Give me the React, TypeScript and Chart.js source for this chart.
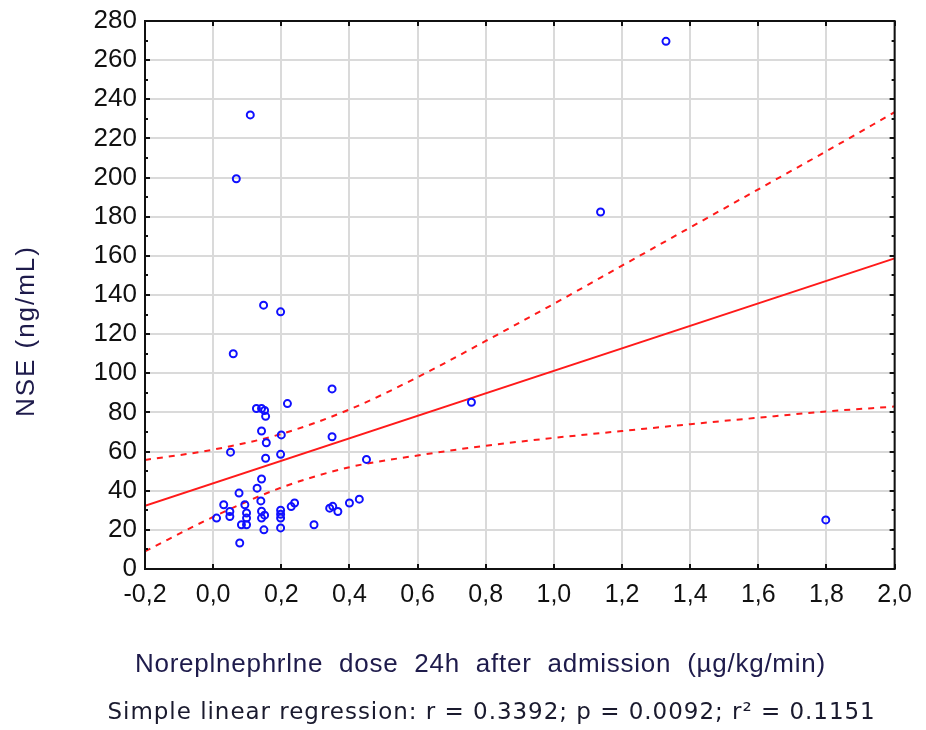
import { useEffect, useRef } from "react";
import { Chart, registerables } from "chart.js";

Chart.register(...registerables);

// Observed points (dose, NSE)
const doseX = [
  0.349, 0.127, 0.142, 0.151, 0.154, 0.218, 0.142, 0.156, 0.2, 0.051,
  0.349, 0.154, 0.198, 0.45, 0.142, 0.129, 0.076, 0.031, 0.14, 0.093,
  0.239, 0.229, 0.049, 0.049, 0.01, 0.098, 0.098, 0.083, 0.098, 0.142,
  0.151, 0.142, 0.198, 0.198, 0.198, 0.149, 0.198, 0.296, 0.078, 0.758,
  0.342, 0.351, 0.366, 0.4, 0.429, 0.109, 0.068, 0.148, 0.198, 0.059,
  1.329, 1.137, 1.798,
];
const nseY = [
  92, 82, 82, 81, 78, 84.5, 70.5, 64.5, 68.5, 59.7,
  67.6, 56.6, 58.6, 56, 46, 41.3, 38.8, 32.8, 34.8, 32.8,
  33.7, 31.9, 29.4, 26.8, 26, 28.6, 26, 22.6, 22.6, 29.5,
  27.5, 26, 30, 28, 26, 20, 21, 22.6, 13.3, 85.2,
  31.1, 32, 29.4, 33.7, 35.7, 232, 199.4, 134.8, 131.4, 110,
  269.6, 182.4, 25.1,
];

// Regression line end points
const fitX = [-0.2, 2.0];
const fitY = [32.3, 158.7];

// Confidence band read at each grid position
const bandX = [-0.2, 0, 0.2, 0.4, 0.6, 0.8, 1.0, 1.2, 1.4, 1.6, 1.8, 2.0];
const upperY = [55.7, 61, 69, 81.5, 98, 116.5, 135.5, 155, 174.5, 194, 213.5, 233.4];
const lowerY = [9, 26.6, 41.6, 52, 58, 63, 67, 70.5, 74, 77.3, 80.5, 83];

// Axis ticks
const xTickValues = [-0.2, 0, 0.2, 0.4, 0.6, 0.8, 1.0, 1.2, 1.4, 1.6, 1.8, 2.0];
const xTickLabels = ["-0,2", "0,0", "0,2", "0,4", "0,6", "0,8", "1,0", "1,2", "1,4", "1,6", "1,8", "2,0"];
const yTickValues = [0, 20, 40, 60, 80, 100, 120, 140, 160, 180, 200, 220, 240, 260, 280];
const yTickLabels = ["0", "20", "40", "60", "80", "100", "120", "140", "160", "180", "200", "220", "240", "260", "280"];

const xTitle = "Noreplnephrlne  dose  24h  after  admission  (\u00b5g/kg/min)";
const yTitle = "NSE (ng/mL)";
const footnote = "Simple linear regression: r = 0.3392; p = 0.0092; r\u00b2 = 0.1151";

function fitText(ctx: CanvasRenderingContext2D, text: string, x: number, y: number, target: number) {
  (ctx as any).letterSpacing = "0px";
  const w = ctx.measureText(text).width;
  const sp = (target - w) / Math.max(1, text.length - 1);
  (ctx as any).letterSpacing = sp.toFixed(2) + "px";
  ctx.textAlign = "left";
  ctx.fillText(text, x - target / 2, y);
  (ctx as any).letterSpacing = "0px";
}

const framePlugin = {
  id: "frameAndText",
  afterDraw(chart: any) {
    const { ctx, chartArea, scales } = chart;
    const { left, right, top, bottom } = chartArea;
    ctx.save();
    // inward tick marks
    ctx.strokeStyle = "#111";
    ctx.lineWidth = 2;
    ctx.beginPath();
    xTickValues.forEach((v) => {
      const px = Math.round(scales.x.getPixelForValue(v));
      ctx.moveTo(px, bottom);
      ctx.lineTo(px, bottom - 5);
      ctx.moveTo(px, top);
      ctx.lineTo(px, top + 5);
    });
    yTickValues.forEach((v) => {
      const py = Math.round(scales.y.getPixelForValue(v));
      ctx.moveTo(left, py);
      ctx.lineTo(left + 5, py);
      ctx.moveTo(right, py);
      ctx.lineTo(right - 5, py);
    });
    for (let i = 0; i < yTickValues.length - 1; i++) {
      const py = Math.round(scales.y.getPixelForValue(yTickValues[i] + 10));
      ctx.moveTo(left, py);
      ctx.lineTo(left + 3, py);
      ctx.moveTo(right, py);
      ctx.lineTo(right - 3, py);
    }
    ctx.stroke();
    // frame
    ctx.strokeStyle = "#111";
    ctx.lineWidth = 2;
    ctx.strokeRect(left, top, right - left, bottom - top);

    // titles
    ctx.fillStyle = "#1e1b4b";
    ctx.textBaseline = "middle";
    ctx.font = "26px 'Liberation Sans', Arial, sans-serif";
    fitText(ctx, xTitle, 480, 665, 690);

    ctx.fillStyle = "#1a1a2e";
    ctx.font = "23px 'DejaVu Sans', sans-serif";
    fitText(ctx, footnote, 491, 713, 767);

    ctx.save();
    ctx.translate(27, 332);
    ctx.rotate(-Math.PI / 2);
    ctx.fillStyle = "#1e1b4b";
    ctx.font = "26px 'Liberation Sans', Arial, sans-serif";
    fitText(ctx, yTitle, 0, 0, 170);
    ctx.restore();
    ctx.restore();
  },
};

export default function App() {
  const ref = useRef<HTMLCanvasElement | null>(null);
  useEffect(() => {
    if (!ref.current) return;
    const pts = doseX.map((x, i) => ({ x, y: nseY[i] }));
    const fit = fitX.map((x, i) => ({ x, y: fitY[i] }));
    const up = bandX.map((x, i) => ({ x, y: upperY[i] }));
    const lo = bandX.map((x, i) => ({ x, y: lowerY[i] }));
    const chart = new Chart(ref.current, {
      type: "scatter",
      data: {
        datasets: [
          {
            data: pts,
            pointStyle: "circle",
            pointRadius: 3.5,
            pointBorderWidth: 2,
            borderColor: "#1010ff",
            backgroundColor: "rgba(0,0,0,0)",
            pointBackgroundColor: "rgba(0,0,0,0)",
            pointBorderColor: "#1010ff",
          },
          {
            data: fit,
            showLine: true,
            pointRadius: 0,
            borderColor: "#ff1a1a",
            borderWidth: 2,
          },
          {
            data: up,
            showLine: true,
            pointRadius: 0,
            borderColor: "#ff1a1a",
            borderWidth: 2,
            borderDash: [6, 6],
            cubicInterpolationMode: "monotone",
          },
          {
            data: lo,
            showLine: true,
            pointRadius: 0,
            borderColor: "#ff1a1a",
            borderWidth: 2,
            borderDash: [6, 6],
            cubicInterpolationMode: "monotone",
          },
        ] as any,
      },
      options: {
        animation: false,
        responsive: false,
        layout: { padding: { top: 20, right: 29, bottom: 0, left: 0 } },
        plugins: { legend: { display: false }, tooltip: { enabled: false } },
        scales: {
          x: {
            type: "linear",
            min: -0.2,
            max: 2.0,
            afterFit: (s: any) => {
              s.height = 161;
            },
            afterBuildTicks: (s: any) => {
              s.ticks = xTickValues.map((v) => ({ value: v }));
            },
            grid: { color: "#dadada", lineWidth: 2, drawTicks: false },
            border: { display: false },
            ticks: {
              padding: 14,
              color: "#111",
              font: { family: "'Liberation Sans', Arial, sans-serif", size: 25, lineHeight: 1 },
              callback: (_v: any, i: number) => xTickLabels[i],
              maxRotation: 0,
              autoSkip: false,
            },
          },
          y: {
            type: "linear",
            min: 0,
            max: 280,
            afterFit: (s: any) => {
              s.width = 145;
            },
            afterBuildTicks: (s: any) => {
              s.ticks = yTickValues.map((v) => ({ value: v }));
            },
            grid: { color: "#dadada", lineWidth: 2, drawTicks: false },
            border: { display: false },
            ticks: {
              padding: 8,
              color: "#111",
              font: { family: "'Liberation Sans', Arial, sans-serif", size: 26, lineHeight: 1 },
              callback: (_v: any, i: number) => yTickLabels[i],
              autoSkip: false,
            },
          },
        },
      } as any,
      plugins: [framePlugin],
    });
    return () => chart.destroy();
  }, []);
  return (
    <div style={{ position: "fixed", left: 0, top: 0, width: 926, height: 730, background: "#fff" }}>
      <canvas ref={ref} width={926} height={730} style={{ display: "block" }} />
    </div>
  );
}
